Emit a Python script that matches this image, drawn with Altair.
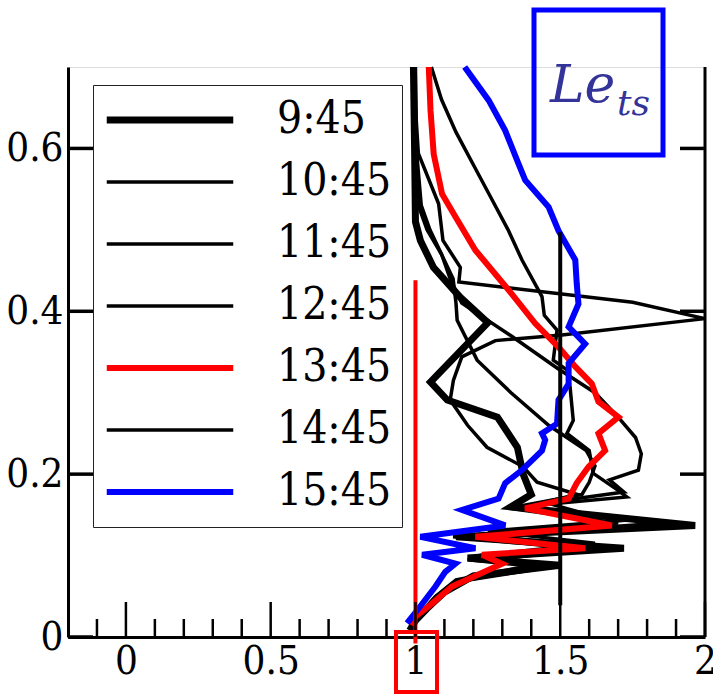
import altair as alt
import pandas as pd

# ---- profiles: height (y) and Lewis-number value (x) for each time ----
SERIES = ["9:45", "10:45", "11:45", "12:45", "13:45", "14:45", "15:45"]
COLORS = ["#000000", "#000000", "#000000", "#000000", "#ff0000", "#000000", "#0000ff"]
WIDTHS = [7, 3.5, 3.5, 3.5, 6, 3.5, 6]

y_0945 = [0.008, 0.020, 0.035, 0.055, 0.075, 0.088, 0.097, 0.109, 0.123, 0.137, 0.160, 0.175,
          0.200, 0.233, 0.270, 0.291, 0.313, 0.386, 0.417, 0.454, 0.487, 0.510, 0.600, 0.700]
x_0945 = [0.980, 1.000, 1.040, 1.100, 1.200, 1.500, 1.180, 1.720, 1.140, 1.966, 1.330, 1.400,
          1.372, 1.352, 1.283, 1.110, 1.052, 1.250, 1.155, 1.062, 1.017, 1.000, 0.997, 0.993]

y_1045 = [0.010, 0.030, 0.050, 0.070, 0.088, 0.095, 0.109, 0.123, 0.140, 0.158, 0.175, 0.190,
          0.209, 0.233, 0.260, 0.291, 0.315, 0.344, 0.364, 0.371, 0.391, 0.411, 0.436, 0.454,
          0.487, 0.532, 0.594, 0.650, 0.700]
x_1045 = [0.980, 1.020, 1.080, 1.180, 1.450, 1.250, 1.650, 1.200, 1.850, 1.350, 1.560, 1.420,
          1.372, 1.247, 1.180, 1.120, 1.131, 1.160, 1.276, 1.506, 2.000, 1.750, 1.150, 1.155,
          1.095, 1.080, 1.010, 1.000, 0.998]

y_1145 = [0.012, 0.030, 0.050, 0.070, 0.088, 0.100, 0.115, 0.130, 0.145, 0.160, 0.172, 0.180,
          0.201, 0.229, 0.250, 0.266, 0.307, 0.328, 0.340, 0.377, 0.395, 0.418, 0.463, 0.500,
          0.540, 0.580, 0.620, 0.660, 0.700]
x_1145 = [0.985, 1.020, 1.070, 1.140, 1.400, 1.220, 1.620, 1.250, 1.780, 1.360, 1.730, 1.700,
          1.614, 1.600, 1.523, 1.545, 1.534, 1.523, 1.476, 1.489, 1.445, 1.437, 1.368, 1.320,
          1.260, 1.200, 1.140, 1.090, 1.055]

y_1245 = [0.012, 0.030, 0.050, 0.070, 0.088, 0.097, 0.109, 0.123, 0.137, 0.150, 0.165, 0.178,
          0.193, 0.205, 0.225, 0.245, 0.270, 0.300, 0.330, 0.370, 0.410, 0.440, 0.470, 0.500,
          0.530, 0.600, 0.700]
x_1245 = [0.985, 1.020, 1.070, 1.160, 1.500, 1.200, 1.700, 1.280, 1.900, 1.600, 1.450, 1.720,
          1.670, 1.770, 1.780, 1.760, 1.700, 1.620, 1.490, 1.330, 1.160, 1.120, 1.090, 1.050,
          1.020, 1.003, 1.000]

y_1345 = [0.015, 0.025, 0.041, 0.062, 0.090, 0.101, 0.109, 0.123, 0.137, 0.158, 0.170, 0.189,
          0.209, 0.229, 0.250, 0.270, 0.289, 0.311, 0.332, 0.356, 0.385, 0.426, 0.475, 0.516,
          0.544, 0.593, 0.647, 0.700]
x_1345 = [0.983, 1.000, 1.057, 1.126, 1.299, 1.230, 1.586, 1.207, 1.678, 1.379, 1.529, 1.557,
          1.598, 1.655, 1.632, 1.701, 1.632, 1.609, 1.552, 1.494, 1.414, 1.322, 1.207, 1.138,
          1.092, 1.063, 1.052, 1.046]

y_1445 = [0.010, 0.028, 0.048, 0.068, 0.085, 0.095, 0.109, 0.123, 0.140, 0.158, 0.175, 0.190,
          0.210, 0.229, 0.260, 0.300, 0.340, 0.389, 0.410, 0.440, 0.470, 0.500, 0.530, 0.600,
          0.700]
x_1445 = [0.980, 1.020, 1.070, 1.150, 1.450, 1.180, 1.550, 1.130, 1.700, 1.320, 1.575, 1.600,
          1.620, 1.590, 1.460, 1.330, 1.213, 1.144, 1.140, 1.130, 1.090, 1.040, 1.010, 1.000,
          0.997]

y_1545 = [0.017, 0.035, 0.062, 0.080, 0.090, 0.101, 0.109, 0.123, 0.137, 0.156, 0.170, 0.189,
          0.205, 0.229, 0.242, 0.250, 0.262, 0.291, 0.311, 0.336, 0.360, 0.381, 0.409, 0.434,
          0.463, 0.499, 0.528, 0.561, 0.581, 0.622, 0.659, 0.700]
x_1545 = [0.971, 1.011, 1.069, 1.103, 1.138, 1.023, 1.207, 1.017, 1.310, 1.161, 1.287, 1.310,
          1.368, 1.437, 1.448, 1.437, 1.489, 1.494, 1.529, 1.529, 1.586, 1.529, 1.563, 1.557,
          1.552, 1.494, 1.460, 1.379, 1.356, 1.310, 1.253, 1.170]

PROFILES = [
    ("9:45", x_0945, y_0945), ("10:45", x_1045, y_1045), ("11:45", x_1145, y_1145),
    ("12:45", x_1245, y_1245), ("14:45", x_1445, y_1445),
    ("13:45", x_1345, y_1345), ("15:45", x_1545, y_1545),
]

# reference markers: vertical lines at Le = 1 and Le = 1.5
ref_x = [1.0, 1.5]
ref_y0 = [-0.008, 0.039]
ref_y1 = [0.438, 0.497]
ref_color = ["#ff0000", "#000000"]

y_ticks = [0.0, 0.2, 0.4, 0.6]
x_major = [0.0, 0.5, 1.0, 1.5, 2.0]
x_minor = [-0.1, 0.1, 0.2, 0.3, 0.4, 0.6, 0.7, 0.8, 0.9, 1.1, 1.2, 1.3, 1.4, 1.6, 1.7, 1.8, 1.9]

W, H = 637, 570
FONT = "DejaVu Serif Condensed"
FONT_NOTE = "DejaVu Serif"

rows = []
for name, xs, ys in PROFILES:
    for i, (xv, yv) in enumerate(zip(xs, ys)):
        rows.append({"series": name, "le": xv, "z": yv, "seq": i})
df = pd.DataFrame(rows)

xscale = alt.Scale(domain=[-0.2, 2.0], nice=False, zero=False)
yscale = alt.Scale(domain=[0.0, 0.7], nice=False, zero=False)

legend = alt.Legend(
    title=None, orient="none", legendX=25, legendY=18,
    symbolType="stroke", symbolSize=16000, clipHeight=50, rowPadding=12,
    labelFont=FONT, labelFontSize=44, labelColor="black", labelOffset=40, labelLimit=0,
    fillColor="white", strokeColor="#222222", padding=10,
)

lines = alt.Chart(df).mark_line(strokeJoin="miter").encode(
    x=alt.X("le:Q", scale=xscale, axis=alt.Axis(
        values=x_major, title=None, ticks=False, grid=False, labelFlush=False,
        labelFont=FONT, labelFontSize=40, labelColor="black", labelPadding=4,
        domainColor="black", domainWidth=3, format="~g")),
    y=alt.Y("z:Q", scale=yscale, axis=alt.Axis(
        values=y_ticks, title=None, ticks=False, grid=False,
        labelFont=FONT, labelFontSize=40, labelColor="black", labelPadding=5,
        domainColor="black", domainWidth=3, format="~g")),
    color=alt.Color("series:N", scale=alt.Scale(domain=SERIES, range=COLORS), legend=legend),
    strokeWidth=alt.StrokeWidth("series:N", scale=alt.Scale(type="ordinal", domain=SERIES, range=WIDTHS),
                                legend=legend),
    order=alt.Order("seq:Q"),
)

ref_df = pd.DataFrame({"le": ref_x, "z0": ref_y0, "z1": ref_y1, "c": ref_color})
refs = alt.Chart(ref_df).mark_rule(strokeWidth=4).encode(
    x=alt.X("le:Q", scale=xscale), y=alt.Y("z0:Q", scale=yscale), y2="z1:Q",
    color=alt.Color("c:N", scale=None),
)

# inward-pointing ticks on the frame
yt = pd.DataFrame({"z": y_ticks})
ticks_left = alt.Chart(yt).mark_rule(strokeWidth=3.5, color="black").encode(
    y=alt.Y("z:Q", scale=yscale), x=alt.value(0), x2=alt.value(25))
ticks_right = alt.Chart(yt).mark_rule(strokeWidth=3.5, color="black").encode(
    y=alt.Y("z:Q", scale=yscale), x=alt.value(W - 25), x2=alt.value(W))
ticks_major = alt.Chart(pd.DataFrame({"le": x_major})).mark_rule(strokeWidth=2.5, color="black").encode(
    x=alt.X("le:Q", scale=xscale), y=alt.value(H), y2=alt.value(H - 35))
ticks_minor = alt.Chart(pd.DataFrame({"le": x_minor})).mark_rule(strokeWidth=2.5, color="black").encode(
    x=alt.X("le:Q", scale=xscale), y=alt.value(H), y2=alt.value(H - 18))
right_frame = alt.Chart(pd.DataFrame({"k": [0]})).mark_rule(strokeWidth=3, color="black").encode(
    x=alt.value(W), y=alt.value(0), y2=alt.value(H))

# annotation boxes and label
blue_box = alt.Chart(pd.DataFrame({"k": [0]})).mark_rect(
    fillOpacity=0, stroke="#0000ff", strokeWidth=5).encode(
    x=alt.value(466), x2=alt.value(595), y=alt.value(-57), y2=alt.value(88))
red_box = alt.Chart(pd.DataFrame({"k": [0]})).mark_rect(
    fillOpacity=0, stroke="#ff0000", strokeWidth=4).encode(
    x=alt.value(328), x2=alt.value(369), y=alt.value(565), y2=alt.value(625))
le_text = alt.Chart(pd.DataFrame({"t": ["Le"]})).mark_text(
    font=FONT_NOTE, fontSize=52, fontStyle="italic", color="#333399", align="left", baseline="alphabetic").encode(
    x=alt.value(482), y=alt.value(35), text="t:N")
ts_text = alt.Chart(pd.DataFrame({"t": ["ts"]})).mark_text(
    font=FONT_NOTE, fontSize=36, fontStyle="italic", color="#333399", align="left", baseline="alphabetic").encode(
    x=alt.value(549), y=alt.value(48), text="t:N")

chart = alt.layer(
    lines, refs, ticks_left, ticks_right, ticks_major, ticks_minor, right_frame,
    blue_box, red_box, le_text, ts_text,
).properties(
    width=W, height=H,
    autosize=alt.AutoSizeParams(type="none"),
    padding={"left": 68, "top": 67, "right": 8, "bottom": 58},
).configure_view(stroke=None).configure(background="white")

chart.save("out.html", embed_options={"renderer": "svg", "actions": False})
